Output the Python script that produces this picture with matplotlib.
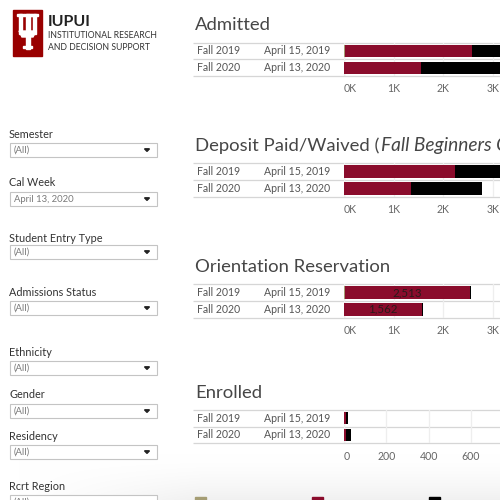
import matplotlib
matplotlib.use("Agg")
import matplotlib.pyplot as plt
import numpy as np
from matplotlib.patches import Rectangle, Polygon

# ---------------- data ----------------
semesters = ["Fall 2019", "Fall 2020"]
cal_weeks = ["April 15, 2019", "April 13, 2020"]
segment_colors = ["#a59d74", "#8a0c2c", "#000000"]

admitted_tan = [30, 0]
admitted_red = [2540, 1550]
admitted_black = [1500, 1900]

deposit_tan = [0, 0]
deposit_red = [2240, 1350]
deposit_black = [1100, 1420]

orientation_tan = [20, 0]
orientation_red = [2513, 1562]
orientation_black = [30, 20]

enrolled_tan = [0, 0]
enrolled_red = [8, 8]
enrolled_black = [12, 26]

k_ticks = [0, 1000, 2000, 3000]
k_tick_labels = ["0K", "1K", "2K", "3K"]
enr_ticks = [0, 200, 400, 600]
enr_tick_labels = ["0", "200", "400", "600"]

filter_labels = ["Semester", "Cal Week", "Student Entry Type", "Admissions Status",
                 "Ethnicity", "Gender", "Residency", "Rcrt Region"]
filter_values = ["(All)", "April 13, 2020", "(All)", "(All)",
                 "(All)", "(All)", "(All)", "(All)"]

# ---------------- figure ----------------
FONT = "Lato"
W = H = 500
fig = plt.figure(figsize=(5, 5), dpi=100)
fig.patch.set_facecolor("white")

bg = fig.add_axes([0, 0, 1, 1])
bg.set_xlim(0, W)
bg.set_ylim(H, 0)
bg.axis("off")

# bottom soft shading
ny, nx = 60, 200
yy = np.linspace(440, 500, ny)[:, None]
xx = np.linspace(0, 500, nx)[None, :]
ty = np.clip((yy - 455) / 45.0, 0, 1) ** 1.5
tx = np.clip((xx - 20) / 180.0, 0, 1)
shade = 1 - 0.055 * ty * tx
bg.imshow(np.dstack([shade, shade, shade]), extent=[0, 500, 500, 440],
          aspect="auto", zorder=0, interpolation="bilinear")


def pax(left, top, width, height):
    return fig.add_axes([left / W, 1 - (top + height) / H, width / W, height / H])


# ---------------- logo ----------------
bg.add_patch(Rectangle((13, 9.5), 29, 46.5, color="#990000", zorder=2))
white = "white"
for r in [(25.5, 13.5, 4, 35), (19, 13.5, 3.2, 20), (33, 13.5, 3.2, 20),
          (17, 13.5, 7, 2.2), (23.5, 13.5, 8, 2.2), (31, 13.5, 7, 2.2),
          (23, 45.5, 9, 2.5)]:
    bg.add_patch(Rectangle((r[0], r[1]), r[2], r[3], color=white, zorder=3))
bg.add_patch(Polygon([(19, 31), (36.2, 31), (33, 37), (22, 37)], closed=True,
                     color=white, zorder=3))
bg.text(47.5, 26.5, "IUPUI", fontsize=11.5, fontweight="bold", color="#222",
        family=FONT, va="baseline", ha="left", zorder=3)
bg.text(48, 38.3, "INSTITUTIONAL RESEARCH", fontsize=6.2, color="#333",
        family=FONT, va="baseline", ha="left", zorder=3)
bg.text(48, 50.3, "AND DECISION SUPPORT", fontsize=6.2, color="#333",
        family=FONT, va="baseline", ha="left", zorder=3)

# ---------------- filters ----------------
label_y = [134, 183, 238, 293, 352, 395, 437, 487]
box_top = [143, 192, 245, 301, 361, 404, 445, 495]
for lab, val, ly, bt in zip(filter_labels, filter_values, label_y, box_top):
    bg.text(9, ly, lab, fontsize=7.8, color="#333", family=FONT,
            va="center", ha="left", zorder=3)
    bg.add_patch(Rectangle((10, bt), 147, 14, facecolor="white",
                           edgecolor="#c4c4c4", lw=0.8, zorder=3))
    bg.text(13.5, bt + 7.3, val, fontsize=6.8, color="#7a7a7a", family=FONT,
            va="center", ha="left", zorder=4)
    bg.add_patch(Polygon([(144.5, bt + 5.8), (149.5, bt + 5.8), (147, bt + 8.4)],
                         closed=True, color="#222", zorder=4))

# ---------------- charts ----------------
charts = [
    dict(title="Admitted", base=29.5, lines=(42.7, 58.7, 76.0),
         tan=admitted_tan, red=admitted_red, black=admitted_black,
         ticks=k_ticks, tlabels=k_tick_labels, ppu=0.0497, show=False),
    dict(title="Deposit Paid/Waived (", italic="Fall Beginners Only)", base=150.5,
         lines=(163.3, 180.0, 196.7),
         tan=deposit_tan, red=deposit_red, black=deposit_black,
         ticks=k_ticks, tlabels=k_tick_labels, ppu=0.0497, show=False),
    dict(title="Orientation Reservation", base=271.5, lines=(284.3, 300.7, 317.7),
         tan=orientation_tan, red=orientation_red, black=orientation_black,
         ticks=k_ticks, tlabels=k_tick_labels, ppu=0.0497, show=True),
    dict(title="Enrolled", base=398.0, lines=(410.0, 426.7, 443.3),
         tan=enrolled_tan, red=enrolled_red, black=enrolled_black,
         ticks=enr_ticks, tlabels=enr_tick_labels, ppu=0.2117, show=False),
]

renderer = fig.canvas.get_renderer()
x0 = 344.0
for c in charts:
    t = bg.text(195, c["base"], c["title"], fontsize=13.3, fontweight="normal",
                color="#464646", family=FONT, va="baseline", ha="left", zorder=3)
    if "italic" in c:
        bb = t.get_window_extent(renderer=renderer)
        bg.text(bb.x1 + 1.5, c["base"], c["italic"], fontsize=13.8,
                fontweight="normal", style="italic", color="#464646", family=FONT,
                va="baseline", ha="left", zorder=3)
    l0, l1, l2 = c["lines"]
    for ly in c["lines"]:
        bg.plot([193, 500], [ly, ly], color="#d6d6d6", lw=0.9, zorder=2,
                solid_capstyle="butt")
    for i, (sem, wk) in enumerate(zip(semesters, cal_weeks)):
        yc = (l0 + l1) / 2 if i == 0 else (l1 + l2) / 2
        bg.text(197, yc, sem, fontsize=7.6, color="#555", family=FONT,
                va="center", ha="left", zorder=3)
        bg.text(264, yc, wk, fontsize=7.6, color="#555", family=FONT,
                va="center", ha="left", zorder=3)

    ax = pax(x0, l0, W - x0, l2 - l0)
    ax.patch.set_alpha(0)
    ax.set_xlim(0, (W - x0) / c["ppu"])
    ax.set_ylim(1.5, -0.5)
    y = np.arange(len(semesters))
    left = np.zeros(len(semesters))
    for vals, col in zip([c["tan"], c["red"], c["black"]], segment_colors):
        ax.barh(y, vals, left=left, height=0.74, color=col, zorder=3)
        if c["show"] and col == segment_colors[1]:
            for yi, v, lft in zip(y, vals, left):
                ax.text(lft + v / 2, yi, f"{v:,}", fontsize=8.3, color="#2a1a1a",
                        family=FONT, ha="center", va="center", zorder=4)
        left = left + np.array(vals)
    ax.set_xticks(c["ticks"])
    ax.set_xticklabels(c["tlabels"], fontsize=7.6, color="#666", family=FONT)
    ax.get_xticklabels()[0].set_horizontalalignment("left")
    ax.tick_params(axis="x", length=0, pad=5.2)
    ax.set_yticks([])
    ax.grid(axis="x", color="#eeeeee", lw=0.9, zorder=0)
    for s in ax.spines.values():
        s.set_visible(False)
    ax.axvline(0, color="#dcdcdc", lw=0.9, zorder=1)

# ---------------- legend squares (cut off at bottom) ----------------
for lx, col in zip([195, 312, 429], segment_colors):
    bg.add_patch(Rectangle((lx, 497.3), 11, 4, color=col, zorder=3))

fig.savefig("out.png", dpi=100)
